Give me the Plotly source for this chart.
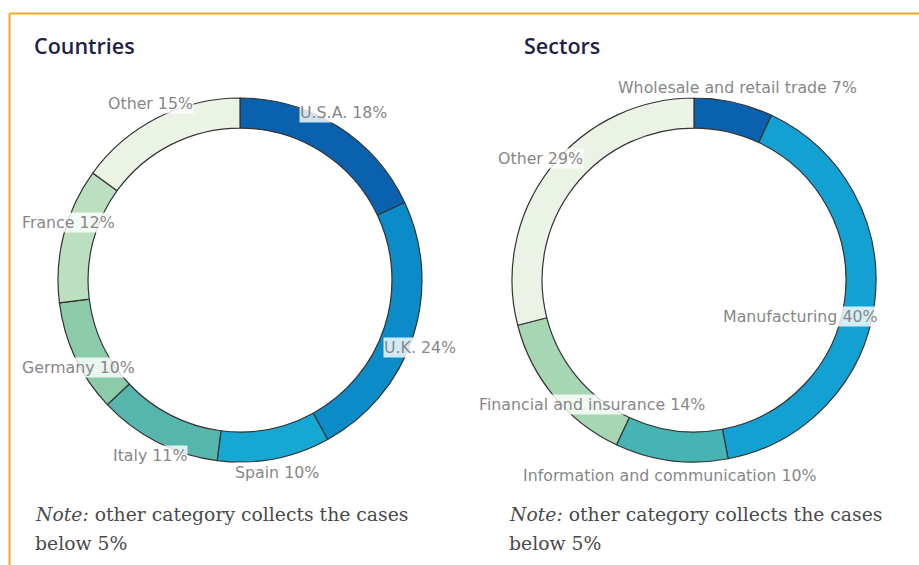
import plotly.graph_objects as go

# ---- data ----
country_labels = ["U.S.A.", "U.K.", "Spain", "Italy", "Germany", "France", "Other"]
country_values = [18, 24, 10, 11, 10, 12, 15]
country_colors = ["#0A61AD", "#0B8BC7", "#16A8D3", "#56B6AE", "#8CCBA9", "#BCDFBF", "#EBF3E5"]

sector_labels = ["Wholesale and retail trade", "Manufacturing", "Information and communication",
                 "Financial and insurance", "Other"]
sector_values = [7, 40, 10, 14, 29]
sector_colors = ["#0A62AE", "#13A0D2", "#47B4B4", "#A6D6B2", "#EBF3E6"]

# label anchor positions (pixels, centre of text)
country_label_pos = [(343, 113), (420, 347), (277, 473), (150, 455), (78, 367), (68, 222), (150, 103)]
sector_label_pos = [(737, 87), (800, 316), (670, 475), (592, 404), (540, 158)]

note_line1 = "<i>Note:</i> other category collects the cases"
note_line2 = "below 5%"

W, H = 919, 565


def px(x, y):
    return x / W, 1 - y / H


fig = go.Figure()


def add_donut(labels, values, colors, cx, cy, r):
    x0, y0 = px(cx - r, cy + r)
    x1, y1 = px(cx + r, cy - r)
    fig.add_trace(go.Pie(
        labels=labels, values=values, sort=False, direction="clockwise", rotation=0,
        hole=0.835, textinfo="none", hoverinfo="label+percent",
        marker=dict(colors=colors, line=dict(color="#333333", width=1.2)),
        domain=dict(x=[x0, x1], y=[y0, y1]), showlegend=False,
    ))


add_donut(country_labels, country_values, country_colors, 240, 280, 182)
add_donut(sector_labels, sector_values, sector_colors, 694, 280, 182)

label_font = dict(family="DejaVu Sans", size=15.8, color="#878787")
ann = []
for lab, v, (x, y) in zip(country_labels, country_values, country_label_pos):
    ax, ay = px(x, y)
    ann.append(dict(x=ax, y=ay, xref="paper", yref="paper", text=f"{lab} {v}%", showarrow=False,
                    font=label_font, bgcolor="rgba(255,255,255,0.82)", borderpad=0,
                    xanchor="center", yanchor="middle"))
for lab, v, (x, y) in zip(sector_labels, sector_values, sector_label_pos):
    ax, ay = px(x, y)
    ann.append(dict(x=ax, y=ay, xref="paper", yref="paper", text=f"{lab} {v}%", showarrow=False,
                    font=label_font, bgcolor="rgba(255,255,255,0.82)", borderpad=0,
                    xanchor="center", yanchor="middle"))

# titles
for t, x in [("Countries", 32), ("Sectors", 522)]:
    ax, ay = px(x, 45)
    ann.append(dict(x=ax, y=ay, xref="paper", yref="paper", text=t, showarrow=False,
                    font=dict(family="Open Sans", size=21.5, color="#1F1F47", weight=600),
                    xanchor="left", yanchor="middle"))

# notes
for x in [33, 507]:
    for txt, y in [(note_line1, 514), (note_line2, 543)]:
        ax, ay = px(x, y)
        ann.append(dict(x=ax, y=ay, xref="paper", yref="paper", text=txt,
                        showarrow=False, align="left",
                        font=dict(family="DejaVu Serif", size=18.8, color="#4a4a4a"),
                        xanchor="left", yanchor="middle"))

shapes = [
    dict(type="line", xref="paper", yref="paper", x0=9.5 / W, x1=1.0, y0=1 - 13.5 / H, y1=1 - 13.5 / H,
         line=dict(color="#F4A925", width=2)),
    dict(type="line", xref="paper", yref="paper", x0=9.5 / W, x1=9.5 / W, y0=0, y1=1 - 13.5 / H,
         line=dict(color="#F4A925", width=2)),
]

fig.update_layout(width=W, height=H, margin=dict(l=0, r=0, t=0, b=0),
                  paper_bgcolor="white", plot_bgcolor="white",
                  annotations=ann, shapes=shapes)

fig.write_html("out.html", config={"displayModeBar": False},
               post_script="document.body.style.margin='0';document.body.style.overflow='hidden';")
